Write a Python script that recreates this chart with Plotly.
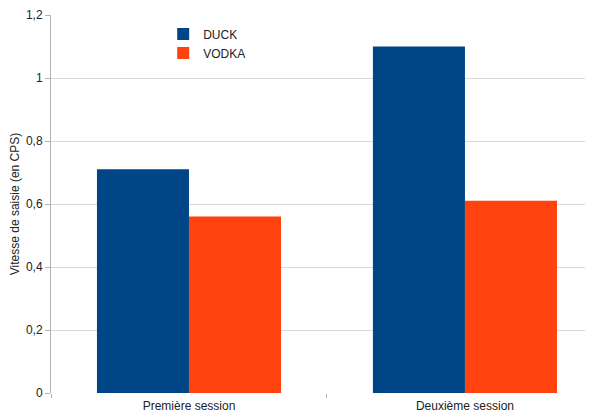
import plotly.graph_objects as go

categories = ["Première session", "Deuxième session"]
duck = [0.71, 1.10]
vodka = [0.56, 0.61]
y_ticks = [0, 0.2, 0.4, 0.6, 0.8, 1.0, 1.2]

fig = go.Figure()
fig.add_trace(go.Bar(name="DUCK", x=categories, y=duck, marker_color="#004586",
                     marker_line_width=0))
fig.add_trace(go.Bar(name="VODKA", x=categories, y=vodka, marker_color="#ff420e",
                     marker_line_width=0))

fig.update_layout(
    width=585, height=405,
    margin=dict(l=43, r=0, t=7, b=20),
    barmode="group", bargap=0.333, bargroupgap=0,
    plot_bgcolor="white", paper_bgcolor="white",
    separators=", ",
    font=dict(family="Liberation Sans, Arial, sans-serif", size=12, color="#222"),
    legend=dict(x=0.207, y=0.988, xanchor="left", yanchor="top",
                bgcolor="rgba(0,0,0,0)", font=dict(size=12, color="#222"),
                itemwidth=30, tracegroupgap=0),
    showlegend=True,
)
fig.update_xaxes(
    range=[-0.5, 1.464], showgrid=False,
    ticks="outside", tickson="boundaries", ticklen=4, tickcolor="#b3b3b3",
    showline=False, zeroline=False, automargin=False,
    ticklabelstandoff=4,
    tickfont=dict(size=12, color="#222"),
)
fig.update_yaxes(
    range=[0, 1.2], tickvals=y_ticks,
    showgrid=True, gridcolor="#d9d9d9", gridwidth=1,
    showline=True, linecolor="#b3b3b3", linewidth=1,
    ticks="outside", ticklen=5, tickcolor="#b3b3b3",
    zeroline=False, automargin=False, ticklabeloverflow="allow",
    title=dict(text="Vitesse de saisie (en CPS)", font=dict(size=12, color="#222"), standoff=3),
    tickfont=dict(size=12, color="#222"),
)
fig.write_html("out.html")
